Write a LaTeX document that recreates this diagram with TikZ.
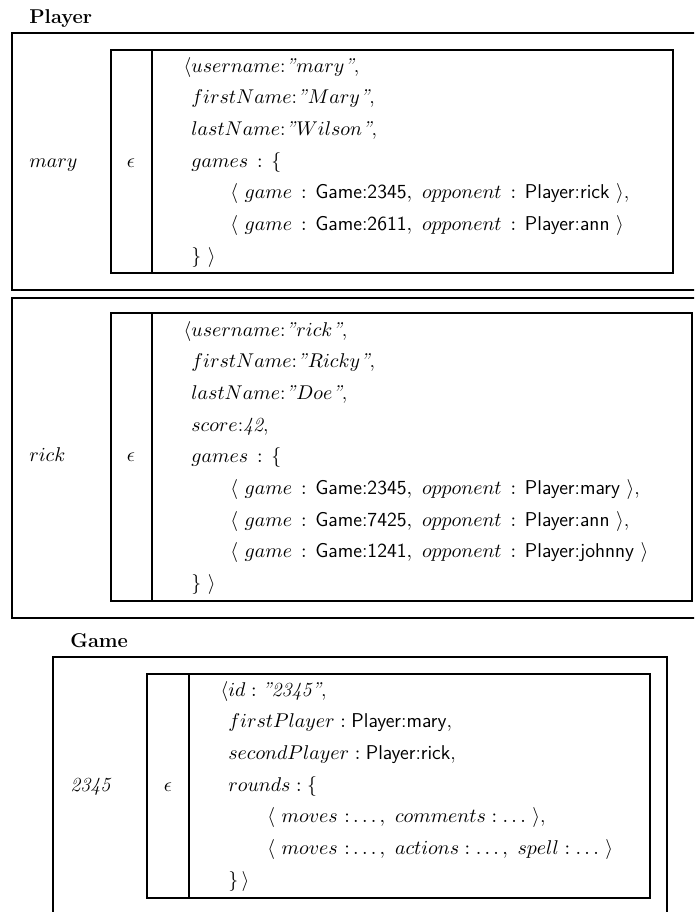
\documentclass[tikz,border=0pt]{standalone}
\usepackage{amsmath}
\usetikzlibrary{positioning}

\newcommand{\qstr}[1]{\textit{”}$#1$\textit{”}}
\newcommand{\subind}{\hspace*{21.5pt}}
\newcommand{\col}{\mathrel{\,:\,}}

\begin{document}
\begin{tikzpicture}[x=0.55pt,y=-0.55pt,
  frame/.style={line width=1.4pt},
  gframe/.style={line width=1.1pt},
  doc/.style={anchor=north west,inner sep=0pt,align=left,font=\fontsize{11}{17.4}\selectfont},
  key/.style={anchor=base west,inner sep=0pt,font=\fontsize{11}{13}\selectfont},
  eps/.style={font=\fontsize{11}{13}\selectfont},
  title/.style={anchor=base west,inner sep=0pt,font=\fontsize{11}{13}\selectfont\bfseries}]
\useasboundingbox (0,0) rectangle (694,912);
\clip (0,0) rectangle (694,912);

% Player: mary
\node[title] (player) at (29,23) {Player};
\draw[frame] (12,33) rectangle (710,290);
\draw[frame] (111,50) rectangle (673,273);
\draw[frame] (152,50) -- (152,273);
\node[key] (mary) at (29,167) {$mary$};
\node[eps] (maryeps) at (131,163) {$\epsilon$};
\node[doc] (marydoc) at (191,57) {%
\llap{$\langle$}$username$:\qstr{mary},\\
$firstName$:\qstr{Mary},\\
$lastName$:\qstr{Wilson},\\
$games \col \{$\\
\subind$\langle\ game \col \textsf{Game:2345},\ opponent \col \textsf{Player:rick}\ \rangle$,\\
\subind$\langle\ game \col \textsf{Game:2611},\ opponent \col \textsf{Player:ann}\ \rangle$\\
$\}\ \rangle$};

% Player: rick
\draw[frame] (12,298) rectangle (710,618);
\draw[frame] (111,313) rectangle (692,601);
\draw[frame] (152,313) -- (152,601);
\node[key] (rick) at (29,461) {$rick$};
\node[eps] (rickeps) at (131,457) {$\epsilon$};
\node[doc] (rickdoc) at (191,321) {%
\llap{$\langle$}$username$:\qstr{rick},\\
$firstName$:\qstr{Ricky},\\
$lastName$:\qstr{Doe},\\
$score$:\textit{42},\\
$games \col \{$\\
\subind$\langle\ game \col \textsf{Game:2345},\ opponent \col \textsf{Player:mary}\ \rangle$,\\
\subind$\langle\ game \col \textsf{Game:7425},\ opponent \col \textsf{Player:ann}\ \rangle$,\\
\subind$\langle\ game \col \textsf{Game:1241},\ opponent \col \textsf{Player:johnny}\ \rangle$\\
$\}\ \rangle$};

% Game
\node[title] (game) at (70,647) {Game};
\draw[gframe] (53,657) rectangle (667,930);
\draw[gframe] (147,674) rectangle (650,898);
\draw[gframe] (189,674) -- (189,898);
\node[key] (g2345) at (70,791) {\textit{2345}};
\node[eps] (gameeps) at (168,787) {$\epsilon$};
\node[doc] (gamedoc) at (228,681) {%
\llap{$\langle$}$id : \textit{”2345”}$,\\
$firstPlayer : \textsf{Player:mary}$,\\
$secondPlayer : \textsf{Player:rick}$,\\
$rounds : \{$\\
\subind$\langle\ moves\ {:}\ldots,\ comments : \ldots\ \rangle$,\\
\subind$\langle\ moves\ {:}\ldots,\ actions : \ldots,\ spell : \ldots\ \rangle$\\
$\}\,\rangle$};
\end{tikzpicture}
\end{document}
